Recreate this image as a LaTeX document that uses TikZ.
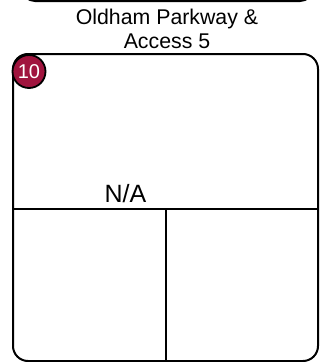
\documentclass[tikz,border=0pt]{standalone}
\usepackage{fontspec}
\setmainfont{Liberation Sans}
\definecolor{badge}{RGB}{160,20,62}
\tikzset{
  frame/.style={draw=black, line width=2pt, rounded corners=15pt},
  divider/.style={draw=black, line width=2pt},
  badgenode/.style={circle, fill=badge, draw=black, line width=1.8pt, minimum size=33pt, inner sep=0pt, text=white, font=\fontsize{20}{20}\selectfont},
}
\begin{document}
\begin{tikzpicture}[x=1pt,y=-1pt]
\useasboundingbox (0,0) rectangle (321,362);
\begin{scope}
\clip (0,0) rectangle (321,362);
\draw[frame, rounded corners=13pt] (22,-40) rectangle (313,1);
\end{scope}
\draw[frame] (13,54) rectangle (318,361);
\coordinate (hl) at (13,209);
\coordinate (hr) at (318,209);
\coordinate (vt) at (166,209);
\coordinate (vb) at (166,361);
\draw[divider] (hl) -- (hr);
\draw[divider] (vt) -- (vb);
\node[anchor=base, font=\fontsize{21.3}{24}\selectfont] (title1) at (167,24) {Oldham Parkway \&};
\node[anchor=base, font=\fontsize{21.3}{24}\selectfont] (title2) at (167,48) {Access 5};
\node[anchor=base, font=\fontsize{25}{25}\selectfont] (na) at (125.5,202) {N/A};
\node[badgenode] (badge) at (29,71.5) {10};
\end{tikzpicture}
\end{document}
